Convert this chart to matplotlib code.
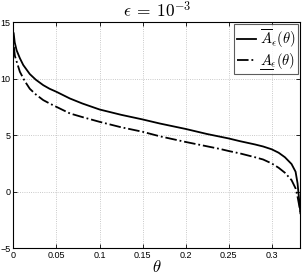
import matplotlib
matplotlib.use("Agg")
import matplotlib.pyplot as plt

theta_upper = [0.0003, 0.0015, 0.0037, 0.0075, 0.0114, 0.019, 0.026, 0.0346, 0.042, 0.05,
               0.0656, 0.08, 0.1, 0.125, 0.15, 0.17, 0.2, 0.225, 0.25, 0.263, 0.2805,
               0.29, 0.3, 0.308, 0.3153, 0.323, 0.3277, 0.33, 0.3315, 0.3333]
A_upper = [14.0, 13.2, 12.5, 11.8, 11.2, 10.4, 9.9, 9.42, 9.1, 8.83,
           8.24, 7.8, 7.27, 6.8, 6.39, 6.03, 5.55, 5.1, 4.71, 4.47, 4.18,
           4.0, 3.75, 3.45, 3.05, 2.45, 1.77, 0.74, -0.44, -1.9]

theta_lower = [0.0005, 0.0017, 0.0075, 0.013, 0.019, 0.026, 0.0346, 0.042, 0.05, 0.0656,
               0.08, 0.1, 0.125, 0.15, 0.17, 0.2, 0.24, 0.25, 0.263, 0.2805, 0.29,
               0.3, 0.308, 0.3153, 0.323, 0.3277, 0.33, 0.3333]
A_lower = [12.8, 12.0, 10.6, 9.8, 9.1, 8.6, 8.1, 7.8, 7.5, 6.92,
           6.6, 6.18, 5.7, 5.3, 4.9, 4.4, 3.78, 3.6, 3.39, 3.05, 2.85,
           2.5, 2.12, 1.68, 1.03, 0.3, -0.44, -1.77]

xticks = [0, 0.05, 0.1, 0.15, 0.2, 0.25, 0.3]
xticklabels = ["0", "0.05", "0.1", "0.15", "0.2", "0.25", "0.3"]
yticks = [-5, 0, 5, 10, 15]

plt.rcParams['mathtext.fontset'] = 'cm'
plt.rcParams['font.family'] = ['Liberation Sans', 'DejaVu Sans']

fig = plt.figure(figsize=(3.05, 2.75), dpi=100)
ax = fig.add_axes([0.044, 0.097, 0.941, 0.823])

ax.plot(theta_upper, A_upper, color='black', lw=1.3, ls='-',
        label=r'$\overline{A}_\epsilon(\theta)$')
ax.plot(theta_lower, A_lower, color='black', lw=1.3, ls='-.',
        label=r'$A_\epsilon(\theta)$')

ax.set_xlim(0, 1/3)
ax.set_ylim(-5, 15)
ax.set_xticks(xticks)
ax.set_xticklabels(xticklabels)
ax.set_yticks(yticks)
ax.tick_params(direction='in', labelsize=6.5, length=3, width=0.6, pad=2,
               top=True, right=True)
ax.grid(True, ls=':', color='#b8b8b8', lw=0.6)
for s in ax.spines.values():
    s.set_linewidth(0.8)

ax.set_title(r'$\epsilon\:=\:10^{-3}$', fontsize=12.5, pad=3)
ax.set_xlabel(r'$\theta$', fontsize=12, labelpad=-1)

LEG_FS = 10.5
leg = ax.legend(loc='upper right', fontsize=LEG_FS, frameon=True, fancybox=False,
                borderpad=0.2, handlelength=1.25, handletextpad=0.3,
                labelspacing=0.1, borderaxespad=0.15)
leg.get_frame().set_edgecolor('#333333')
leg.get_frame().set_linewidth(0.8)

# underline the "A" of the second legend entry (mathtext has no \underline)
fig.canvas.draw()
renderer = fig.canvas.get_renderer()
txt = leg.get_texts()[1]
bb = txt.get_window_extent(renderer)
tmp = fig.text(0, 0, r'$A$', fontsize=LEG_FS)
wA = tmp.get_window_extent(renderer).width
tmp.remove()
inv = fig.transFigure.inverted()
x0, y0 = inv.transform((bb.x0 + 0.5, bb.y0 + 2.0))
x1, _ = inv.transform((bb.x0 + wA + 0.5, bb.y0 + 2.0))
fig.add_artist(plt.Line2D([x0, x1], [y0, y0], color='black', lw=0.7,
                          transform=fig.transFigure))

fig.savefig('out.png', dpi=100)
